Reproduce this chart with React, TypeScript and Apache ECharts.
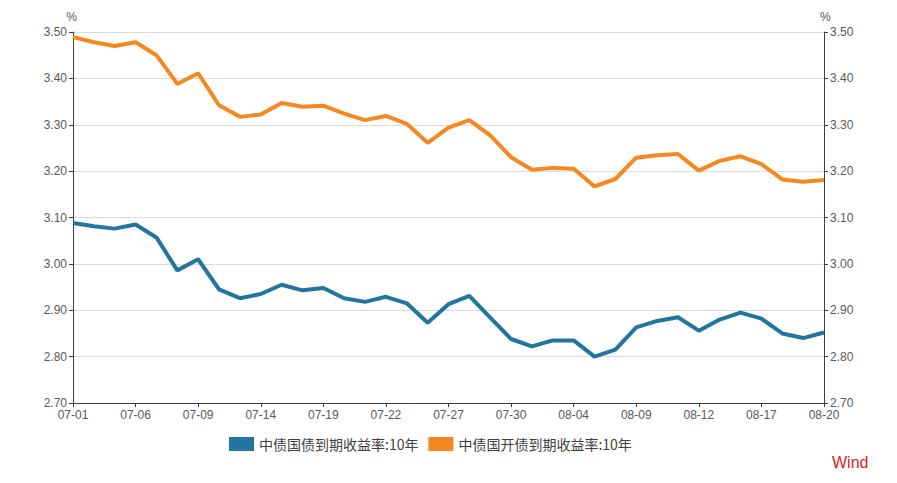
import React, { useEffect, useRef } from "react";
import * as echarts from "echarts";

const dates = [
  "07-01", "07-02", "07-05", "07-06", "07-07", "07-08", "07-09", "07-12", "07-13", "07-14",
  "07-15", "07-16", "07-19", "07-20", "07-21", "07-22", "07-23", "07-26", "07-27", "07-28",
  "07-29", "07-30", "08-02", "08-03", "08-04", "08-05", "08-06", "08-09", "08-10", "08-11",
  "08-12", "08-13", "08-16", "08-17", "08-18", "08-19", "08-20",
];

const govBond10y = [
  3.088, 3.081, 3.076, 3.085, 3.057, 2.986, 3.010, 2.945, 2.926, 2.935,
  2.955, 2.943, 2.948, 2.926, 2.918, 2.929, 2.915, 2.873, 2.913, 2.931,
  2.884, 2.838, 2.822, 2.835, 2.835, 2.800, 2.815, 2.863, 2.877, 2.885,
  2.856, 2.880, 2.895, 2.882, 2.850, 2.840, 2.852,
];

const cdbBond10y = [
  3.489, 3.478, 3.470, 3.478, 3.450, 3.388, 3.411, 3.342, 3.317, 3.322,
  3.347, 3.339, 3.341, 3.324, 3.310, 3.319, 3.302, 3.261, 3.294, 3.310,
  3.277, 3.230, 3.203, 3.207, 3.205, 3.167, 3.183, 3.229, 3.234, 3.237,
  3.201, 3.222, 3.232, 3.215, 3.182, 3.177, 3.181,
];

const seriesNames = ["中债国债到期收益率:10年", "中债国开债到期收益率:10年"];
const colors = ["#21759f", "#f5881f"];

export default function App() {
  const ref = useRef<HTMLDivElement>(null);
  useEffect(() => {
    if (!ref.current) return;
    const chart = echarts.init(ref.current, null, { renderer: "svg" });
    const yAxisBase = (pos: "left" | "right") => ({
      type: "value" as const,
      position: pos,
      min: 2.7,
      max: 3.5,
      interval: 0.1,
      name: "%",
      nameLocation: "end" as const,
      nameGap: 9,
      nameTextStyle: { color: "#595959", fontSize: 12, fontFamily: "Liberation Sans Narrow, Liberation Sans" , align: pos === "left" ? "right" : "left", padding: pos === "left" ? [0, -4, 0, 0] : [0, 0, 0, -4] },
      axisLine: { show: true, lineStyle: { color: "#404040", width: 1 } },
      axisTick: { show: true, length: 4, lineStyle: { color: "#404040" } },
      axisLabel: {
        color: "#595959",
        fontSize: 12,
        fontFamily: "Liberation Sans Narrow, Liberation Sans",
        margin: 6,
        formatter: (v: number) => v.toFixed(2),
      },
      splitLine: { show: pos === "left", lineStyle: { color: "#dcdcdc", width: 1 } },
    });
    chart.setOption({
      animation: false,
      backgroundColor: "#ffffff",
      color: colors,
      grid: { left: 73, right: 73, top: 32, bottom: 80, containLabel: false },
      legend: {
        data: seriesNames.map((n) => ({ name: n, icon: "rect" })),
        left: 229,
        top: 437,
        padding: 0,
        itemWidth: 25,
        itemHeight: 14,
        itemGap: 10,
        textStyle: { color: "#404040", fontSize: 14, fontFamily: "Noto Sans CJK SC" },
      },
      graphic: [
        {
          type: "text",
          left: 832,
          top: 454,
          style: { text: "Wind", fill: "#e0201b", fontSize: 16, fontFamily: "Liberation Sans" },
        },
      ],
      xAxis: {
        type: "category",
        data: dates,
        boundaryGap: false,
        axisLine: { lineStyle: { color: "#404040", width: 1 } },
        axisTick: { interval: 2, length: 4, lineStyle: { color: "#404040" } },
        axisLabel: {
          interval: 2,
          color: "#595959",
          fontSize: 12,
          fontFamily: "Liberation Sans Narrow, Liberation Sans",
          margin: 6,
        },
        splitLine: { show: false },
      },
      yAxis: [yAxisBase("left"), yAxisBase("right")],
      series: [
        {
          name: seriesNames[0],
          type: "line",
          data: govBond10y,
          yAxisIndex: 0,
          showSymbol: false,
          symbol: "none",
          lineStyle: { width: 4, color: colors[0] },
        },
        {
          name: seriesNames[1],
          type: "line",
          data: cdbBond10y,
          yAxisIndex: 0,
          showSymbol: false,
          symbol: "none",
          lineStyle: { width: 4, color: colors[1] },
        },
      ],
    });
    return () => chart.dispose();
  }, []);
  return (
    <div
      ref={ref}
      style={{ position: "fixed", left: 0, top: 0, width: 897, height: 483, background: "#fff" }}
    />
  );
}
